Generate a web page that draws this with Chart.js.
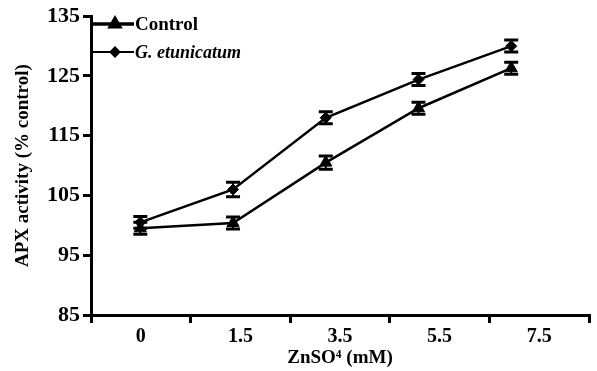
<!DOCTYPE html>
<html lang="en">
<head>
    <meta charset="UTF-8">
    <title>APX activity</title>
    <script src="https://cdn.jsdelivr.net/npm/chart.js"></script>
    <style>
        body {
            margin: 0;
            background: #fff;
        }
    </style>
</head>
<body>
    <canvas id="grafico" width="597" height="371"></canvas>

    <script>
        // ZnSO4 doses (tick labels)
        const doses = ['0', '1.5', '3.5', '5.5', '7.5'];

        // APX activity (% control)
        const controlValues = [99.5, 100.4, 110.5, 119.6, 126.3];
        const controlErrors = [1.0, 1.0, 1.1, 1.0, 1.0];
        const etunicatumValues = [100.5, 106.0, 118.0, 124.4, 130.0];
        const etunicatumErrors = [1.0, 1.2, 1.0, 1.0, 1.0];

        const yTicks = [85, 95, 105, 115, 125, 135];

        const serif = '"Liberation Serif", "Times New Roman", serif';

        // error bars drawn on top of each point
        const errorBars = {
            id: 'errorBars',
            afterDatasetsDraw(chart) {
                const ctx = chart.ctx;
                const y = chart.scales.y;
                ctx.save();
                ctx.strokeStyle = '#000';
                chart.data.datasets.forEach((ds, di) => {
                    const meta = chart.getDatasetMeta(di);
                    meta.data.forEach((pt, i) => {
                        const v = ds.data[i].y;
                        const e = ds.errors[i];
                        const top = y.getPixelForValue(v + e);
                        const bot = y.getPixelForValue(v - e);
                        ctx.lineWidth = 2;
                        ctx.beginPath();
                        ctx.moveTo(pt.x, top);
                        ctx.lineTo(pt.x, bot);
                        ctx.stroke();
                        ctx.lineWidth = 3;
                        ctx.beginPath();
                        ctx.moveTo(pt.x - 7, top);
                        ctx.lineTo(pt.x + 7, top);
                        ctx.moveTo(pt.x - 7, bot);
                        ctx.lineTo(pt.x + 7, bot);
                        ctx.stroke();
                    });
                });
                ctx.restore();
            }
        };

        // legend in the top left corner of the plot
        const cornerLegend = {
            id: 'cornerLegend',
            afterDraw(chart) {
                const ctx = chart.ctx;
                const left = chart.chartArea.left;
                const items = [
                    { text: 'Control', style: 'triangle', radius: 5.5, width: 3.5, y: 24, font: 'bold 19px ' + serif },
                    { text: 'G. etunicatum', style: 'rectRot', radius: 4.5, width: 2, y: 52, font: 'italic bold 18px ' + serif }
                ];
                ctx.save();
                items.forEach(it => {
                    ctx.strokeStyle = '#000';
                    ctx.fillStyle = '#000';
                    ctx.lineWidth = it.width;
                    ctx.beginPath();
                    ctx.moveTo(left, it.y);
                    ctx.lineTo(left + 43, it.y);
                    ctx.stroke();
                    Chart.helpers.drawPoint(ctx, { pointStyle: it.style, radius: it.radius, rotation: 0, borderWidth: 1 }, left + 24, it.y);
                    ctx.font = it.font;
                    ctx.textBaseline = 'middle';
                    ctx.textAlign = 'left';
                    ctx.fillText(it.text, left + 44, it.y + 1);
                });
                ctx.restore();
            }
        };

        const toPoints = arr => arr.map((v, i) => ({ x: i, y: v }));

        new Chart(document.getElementById('grafico').getContext('2d'), {
            type: 'line',
            data: {
                labels: doses,
                datasets: [
                    {
                        label: 'Control',
                        data: toPoints(controlValues),
                        errors: controlErrors,
                        xAxisID: 'xd',
                        borderColor: '#000',
                        backgroundColor: '#000',
                        borderWidth: 2.5,
                        pointStyle: 'triangle',
                        pointRadius: 7,
                        pointBorderWidth: 1,
                        tension: 0
                    },
                    {
                        label: 'G. etunicatum',
                        data: toPoints(etunicatumValues),
                        errors: etunicatumErrors,
                        xAxisID: 'xd',
                        borderColor: '#000',
                        backgroundColor: '#000',
                        borderWidth: 2.5,
                        pointStyle: 'rectRot',
                        pointRadius: 5.5,
                        pointBorderWidth: 1,
                        tension: 0
                    }
                ]
            },
            options: {
                responsive: false,
                animation: false,
                layout: {
                    padding: { top: 15, right: 7, left: 0, bottom: 0 }
                },
                plugins: {
                    legend: { display: false },
                    tooltip: { enabled: false }
                },
                scales: {
                    x: {
                        type: 'category',
                        offset: true,
                        afterFit: s => { s.height = 56; },
                        border: { color: '#000', width: 3 },
                        grid: {
                            offset: true,
                            drawOnChartArea: false,
                            color: '#000',
                            lineWidth: 3,
                            tickLength: 8
                        },
                        ticks: {
                            color: '#000',
                            padding: 2,
                            maxRotation: 0,
                            font: { family: serif, size: 20, weight: 'bold' }
                        },
                        title: {
                            display: true,
                            text: 'ZnSO⁴ (mM)',
                            color: '#000',
                            padding: { top: 0, bottom: 2 },
                            font: { family: serif, size: 19, weight: 'bold' }
                        }
                    },
                    // hidden axis the points are placed on (index of each dose)
                    xd: {
                        type: 'linear',
                        display: false,
                        min: -0.532,
                        max: 4.839
                    },
                    y: {
                        min: 85,
                        max: 135,
                        afterFit: s => { s.width = 91; },
                        afterBuildTicks: s => { s.ticks = yTicks.map(v => ({ value: v })); },
                        border: { color: '#000', width: 3 },
                        grid: {
                            drawOnChartArea: false,
                            color: '#000',
                            lineWidth: 3,
                            tickLength: 8
                        },
                        ticks: {
                            color: '#000',
                            padding: 3,
                            font: { family: serif, size: 22, weight: 'bold' }
                        },
                        title: {
                            display: true,
                            text: 'APX activity (% control)',
                            color: '#000',
                            padding: { top: 12, bottom: 0 },
                            font: { family: serif, size: 19, weight: 'bold' }
                        }
                    }
                }
            },
            plugins: [errorBars, cornerLegend]
        });
    </script>
</body>
</html>
